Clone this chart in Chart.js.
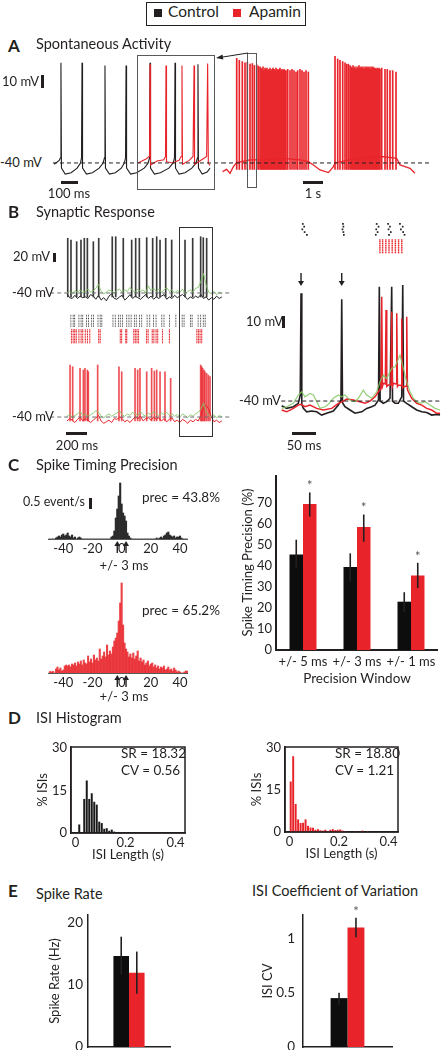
<!DOCTYPE html>
<html>
<head>
<meta charset="utf-8">
<script src="https://cdn.jsdelivr.net/npm/chart.js@4.4.1/dist/chart.umd.min.js"></script>
<style>
body{margin:0;width:441px;height:1050px;position:relative;overflow:hidden;background:#fff;font-family:Lato,"Open Sans",sans-serif;color:#231f20}
.t{position:absolute;white-space:nowrap;line-height:1}
.sb{position:absolute;background:#231f20}
.box{position:absolute;box-sizing:border-box}
canvas{position:absolute}
</style>
</head>
<body>
<script>
const ink='#231f20', red='#e8242a', green='rgba(128,198,98,0.85)', grey='#6d6e70'
const fam='Lato, "Open Sans", sans-serif'
Chart.defaults.font.family=fam
Chart.defaults.font.size=13
Chart.defaults.color=ink
Chart.defaults.animation=false
Chart.defaults.responsive=false
Chart.defaults.devicePixelRatio=1
Chart.defaults.plugins.legend.display=false
Chart.defaults.plugins.tooltip.enabled=false
Chart.defaults.events=[]

// ---------- data ----------
const restLevel=-40

// A: spontaneous activity, control (ms, mV)
const ctrlA_t=[-5,25,32,35,38,60,95,130,150,156,159,162,185,220,260,283,291,294,297,320,355,390,408,415,418,421,445,480,525,548,556,559,562,585,620,670,695,703,706,709,730,765,805,830,838,841,844,866,895,912]
const ctrlA_v=[-41,-38,-36,37,-44,-48.5,-47.5,-44,-40,-36,37,-44,-48.5,-47.5,-44,-40,-36,35,-44,-48.5,-47.5,-44,-40,-36,35,-44,-48.5,-47.5,-44,-40,-36,37,-44,-48.5,-47.5,-44,-40,-36,37,-44,-48.5,-47.5,-44,-40,-36,36,-44,-48.5,-47,-44]
// A: apamin, same window (ms, mV)
const apaA_t=[488,535,553,556,559,562,600,640,650,653,656,690,730,742,747,750,790,812,818,821,870,892,898,902,912]
const apaA_v=[-40,-37,-35,-33,36,-41.5,-38.5,-37.5,-35,35,-39,-40,-38,-35,35,-41,-38,-35,35,-41,-37,-35,36.5,-40,-42]
// A: apamin long recording (s, mV)
const apaLong_t=[0.03,0.23,0.40,0.57,0.73,1.40,2.23,3.07,3.90,4.32,4.57,4.90,5.32,5.57,5.65,6.40,7.23,8.07,8.73,8.90,9.15,9.40,9.65]
const apaLong_v=[-46.7,-44.9,-47.9,-42.8,-39.8,-37.7,-37.5,-36.4,-37.7,-39,-41.5,-45.4,-47.4,-42.8,-40,-37.5,-35.6,-35.1,-36.4,-41.5,-42.8,-44.1,-47.9]
const apaLongSpk=[0.735,0.865,1.015,1.15,1.265,1.40,1.515,1.615,1.735,1.815,1.90,
1.95,2.00,2.05,2.10,2.15,2.20,2.25,2.30,2.35,2.40,2.45,2.50,2.55,2.60,2.65,2.70,2.75,2.80,2.85,2.90,2.95,3.00,3.05,3.10,3.15,
3.20,3.285,3.40,3.50,3.60,3.70,3.785,3.90,4.00,4.10,4.20,4.315,
5.65,5.785,5.90,6.035,6.15,6.235,6.315,6.40,
6.45,6.50,6.55,6.60,6.65,6.70,6.75,6.80,6.85,6.90,6.95,7.00,7.05,7.10,7.15,7.20,7.25,7.30,7.35,7.40,7.45,7.50,7.55,7.60,7.65,7.70,7.75,7.80,7.85,7.90,
7.985,8.15,8.265,8.40,8.535,8.70]
const apaLongPk=[40.5,39,38,37,37.5,36,36.5,35,35.5,34.5,34,
33,32,34,31,33,32,33,31,32,33,31,32,33,32,31,33,32,31,32,33,31,32,31,32,31,
31,32,31,32,31,30,31,32,31,30,31,30,
42,40,39,38,37,36,36,35,
34,33,35,33,34,32,34,33,35,33,34,33,34,32,34,33,34,33,34,32,34,33,34,33,33,32,33,32,33,32,
33,32,32,31,31,30]

// B: synaptic response, 1.5 s (ms, mV)
const tGrid=[0,25,50,75,100,125,150,175,200,225,250,275,300,325,350,375,400,425,450,475,500,525,550,575,600,625,650,675,700,725,750,775,800,825,850,875,900,925,950,975,1000,1025,1050,1075,1100,1125,1150,1175,1200,1225,1250,1275,1300,1325,1350,1375,1400,1425,1450,1475]
const ctrlSub=[-41,-46,-47,-43,-47,-44,-46,-45,-47,-42,-44,-48,-43,-49,-46,-50,-44,-41,-47,-48,-45,-43,-49,-46,-42,-47,-44,-46,-48,-45,-42,-47,-44,-48,-45,-47,-44,-42,-48,-45,-47,-43,-46,-44,-42,-45,-48,-45,-47,-44,-46,-42,-47,-45,-49,-46,-48,-44,-47,-45]
const greenTop=[-40,-38,-41,-37,-39,-36,-40,-38,-35,-39,-37,-34,-29,-38,-41,-39,-36,-38,-40,-37,-35,-39,-36,-38,-33,-37,-39,-35,-38,-36,-40,-31,-37,-34,-38,-35,-39,-36,-33,-38,-36,-40,-37,-39,-35,-41,-38,-36,-39,-34,-33,-25,-15,-30,-39,-41,-38,-42,-39,-41]
const apaSub=[-45,-42,-44,-47,-43,-40,-45,-42,-44,-47,-44,-41,-38,-45,-48,-46,-44,-47,-42,-43,-40,-42,-46,-44,-47,-43,-40,-42,-39,-45,-42,-41,-44,-40,-43,-41,-45,-42,-46,-43,-41,-46,-44,-47,-43,-45,-48,-44,-46,-43,-45,-38,-28,-25,-30,-40,-46,-44,-47,-45]
const greenBot=[-39,-37,-40,-38,-36,-33,-38,-36,-39,-37,-35,-32,-34,-39,-41,-38,-36,-39,-37,-35,-32,-37,-39,-36,-38,-34,-36,-38,-33,-37,-39,-35,-37,-33,-36,-38,-35,-37,-34,-38,-36,-39,-37,-40,-36,-38,-41,-37,-39,-36,-34,-30,-22,-33,-38,-40,-37,-41,-38,-40]
const ctrlSpkB=[7,38,92,133,165,194,251,302,431,464,536,616,654,689,759,816,854,886,940,997,1124,1197,1273,1298,1330]
const ctrlPkB=[29.6,27.4,25.3,27.4,29.6,29.6,25.3,29.6,31.6,31.6,29.6,27.4,29.6,29.6,30.4,29.6,31.6,27.4,29.6,27.4,27.4,29.6,31.6,30.4,29.6]
const apaSpkB=[29,54,124,156,171,194,203,292,495,521,648,673,695,759,806,832,854,886,933,987,1273,1283,1292,1305,1314,1330,1346,1362]
const apaPkB=[26.2,24,22,19.8,22,19.8,17.6,26.2,24,17.6,22,19.8,22,17.6,22,18.5,19.8,17.6,17.6,9.2,26.2,24,22,19.8,17.6,15.5,13.4,11.3]
const ctrlRasterB=[6,29,44,86,108,124,162,181,213,232,276,298,314,425,448,479,498,521,562,584,606,638,657,689,711,765,791,829,854,911,933,987,1051,1114,1133,1197,1213,1273,1298,1324,1343]
const apaRasterB=[12,29,44,60,86,108,124,150,171,194,283,298,498,511,552,562,632,648,664,679,759,775,816,832,854,870,918,987,1260,1276,1292,1308]
const ctrlTrials=[1,2,3,4,5,6,7,8]
const apaTrials=[10,11,12,13,14,15,16,17,18]

// B inset, 330 ms (ms, mV)
const ctrlIn_t=[-0.7,9.7,23.6,34,38,39.6,41.2,44.4,51.4,61.8,72.2,82.6,93,106.9,117.4,122.8,124.4,126,131.2,141.7,152,166,176.4,186.8,193.8,201,202.7,204.4,211,218,225,228.5,230.2,235.4,242.3,249.4,251.5,253.2,259.8,270.2,280.6,291,301.5,311.9,322.3,329.2]
const ctrlIn_v=[-42.9,-44.5,-43.5,-41.4,-36.3,26.1,-42,-44.5,-46.6,-46.1,-46.6,-48.6,-47.5,-46.1,-42.5,-39.4,22.4,-41,-43.5,-45.5,-47.5,-46.6,-44.5,-43.5,-42.5,-39.4,30.1,-40,-41.4,-40.4,-38.3,30.1,-40,-41.4,-41.4,-37.4,31.2,-40,-41.4,-43.5,-45.5,-46.6,-47,-48.6,-48.2,-48.6]
const apaIn_t=[-0.7,9.7,23.6,34,39.6,47.9,58.3,72.2,86.1,103.5,117.4,127.8,134.7,148.6,162.5,172.9,183.3,193.8,200.7,206.2,207.7,209.2,211.1,215.2,216.7,218.2,221.5,227,228.5,230,232,237.5,239,240.5,242.4,247.9,249.4,250.9,252.8,258.3,259.8,261.3,263.2,270.2,280.6,291,301.5,311.9,322.3,329.2]
const apaIn_v=[-45.5,-46.6,-44.5,-42.5,-42,-43.5,-42.5,-44.5,-45.5,-44.5,-41.4,-40,-38.8,-39.4,-40.4,-41.4,-40,-37.4,-34.3,-32.2,24,-31,-29.1,-29.5,15.8,-31,-30.2,-30,14.8,-31,-29.1,-29.5,13.8,-31,-30.2,-30.5,10.7,-32,-31.2,-31,11.7,-33,-34.3,-38.3,-41.4,-42.5,-44.5,-45.5,-47.5,-47.5]
const greenIn_t=[-0.7,9.7,23.6,34,41,47.9,58.3,65.3,79.2,89.6,96.5,106.9,117.4,124.3,131.2,141.7,152.1,159,169.4,176.4,186.8,197.2,204.2,211.1,218,228.5,235.4,245.8,252.8,259.7,266.7,273.6,280.6,287.5,297.9,308.3,318.8,329.2]
const greenIn_v=[-44.5,-43.5,-41.4,-36.3,-34.3,-37.4,-35.3,-36.3,-44.5,-43.5,-42,-38.3,-36.3,-37.4,-36.3,-39.4,-40.4,-38.3,-33.3,-36.3,-38.3,-34.3,-28.2,-24,-26.1,-19.9,-19,-11.8,-19.9,-28.2,-34.3,-38.3,-40.4,-41.4,-40.4,-42.5,-44.5,-45.5]
const stimTimes=[39.6,124.4]
const ctrlRasterIn_t=[37,40,36,41,46,125,126,124,126,127,199,203,198,201,197,224,228,225,230,226,250,256,252,257,260]
const ctrlRasterIn_tr=[1,2,3,4,5,1,2,3,4,5,1,2,3,4,5,1,2,3,4,5,1,2,3,4,5]
const apaRasterIn_cols=[206,212,219,226,233,240,247,254]
const apaRasterIn_rows=[1,2,3,4,5,6,7,8]

// C: spike timing histograms (event/s per 1 ms bin)
const lagMs=[-50,-49,-48,-47,-46,-45,-44,-43,-42,-41,-40,-39,-38,-37,-36,-35,-34,-33,-32,-31,-30,-29,-28,-27,-26,-25,-24,-23,-22,-21,-20,-19,-18,-17,-16,-15,-14,-13,-12,-11,-10,-9,-8,-7,-6,-5,-4,-3,-2,-1,0,1,2,3,4,5,6,7,8,9,10,11,12,13,14,15,16,17,18,19,20,21,22,23,24,25,26,27,28,29,30,31,32,33,34,35,36,37,38,39,40,41,42,43,44,45]
const ctrlLag=[0,0,0,0,0,0.05,0.1,0.15,0.1,0.2,0.25,0.15,0.2,0.3,0.15,0.1,0.2,0.05,0.1,0,0.05,0.1,0.05,0,0,0,0,0,0,0,0,0,0,0,0,0,0,0,0,0,0,0,0,0.1,0.15,0.4,1.05,1.5,2.15,2.8,1.75,1.3,1.15,0.9,0.3,0.15,0.05,0,0,0,0,0,0,0,0,0,0,0,0,0,0,0,0,0,0.05,0,0.05,0.1,0.05,0.15,0.2,0.3,0.35,0.2,0.15,0.1,0.15,0.05,0.1,0.1,0.15,0.05,0,0,0,0]
const apaLag=[0,0.08,0.05,0.08,0,0.2,0.3,0.15,0.25,0.1,0.15,0.35,0.4,0.35,0.4,0.3,0.45,0.4,0.5,0.35,0.55,0.45,0.6,0.4,0.65,0.5,0.45,0.85,0.55,0.7,0.5,0.9,0.65,0.75,0.6,1.2,0.7,0.85,1.05,0.8,1.4,0.9,1.1,0.95,1.3,1.6,1.75,2.0,2.6,3.5,4.5,2.4,1.5,1.2,1.05,0.8,0.95,0.75,1.0,0.7,0.85,1.1,0.6,0.75,0.55,0.65,0.4,0.5,0.6,0.35,0.45,0.5,0.3,0.4,0.25,0.35,0.2,0.3,0.25,0.35,0.15,0.2,0.3,0.15,0.2,0.1,0.25,0.15,0.05,0.1,0.05,0,0,0.05,0.1,0.1]
const lagTicks=[-40,-20,0,20,40]
const precWin=[-3,3]

// C: precision summary (%)
const precLabels=['+/- 5 ms','+/- 3 ms','+/- 1 ms']
const precCtrl=[45.5,39.5,23]
const precCtrlLo=[39,32.5,18], precCtrlHi=[52.5,46,27.5]
const precApa=[69.5,58.5,35.5]
const precApaLo=[63.5,51.5,29.5], precApaHi=[75,64.5,41.5]
const precTicks=[0,10,20,30,40,50,60,70]

// D: ISI histograms (% of ISIs per 10 ms bin)
const isiCtrlBins=[0.005,0.015,0.025,0.035,0.045,0.055,0.065,0.075,0.085,0.095,0.105,0.115,0.125,0.135,0.145,0.155]
const isiCtrl=[0,3,0,12,18.5,12,14,11,10,4,3.5,1.5,1.7,0.8,1.2,0.5]
const isiApaBins=[0.005,0.015,0.025,0.035,0.045,0.055,0.065,0.075,0.085,0.095,0.105,0.115,0.125,0.135,0.145,0.155,0.165,0.175,0.185,0.195,0.205,0.215,0.225,0.235,0.245,0.255,0.265,0.275,0.285,0.295,0.305,0.315,0.325]
const isiApa=[18,27,10,4.5,3.2,3.3,4.5,2.2,1.6,1.5,0.8,1.0,0.6,0.5,0.8,0.3,0.8,1.0,0.7,0.8,0.9,0.5,0.3,0,0,0,0.3,0,0,0.5,0,0.3,0]
const isiTicks=[0,0.2,0.4]
const pctTicks=[0,15,30]

// E: summary
const rateCtrl=[14.7], rateCtrlLo=[11.7], rateCtrlHi=[17.8]
const rateApa=[12], rateApaLo=[8.6], rateApaHi=[15.4]
const rateTicks=[0,10,20]
const cvCtrl=[0.45], cvCtrlLo=[0.39], cvCtrlHi=[0.50]
const cvApa=[1.10], cvApaLo=[1.01], cvApaHi=[1.19]
const cvTicks=[0,0.5,1]

// ---------- helpers ----------
function mk(left,top,w,h){
let c=document.createElement('canvas')
c.width=w; c.height=h
c.style.left=left+'px'; c.style.top=top+'px'; c.style.width=w+'px'; c.style.height=h+'px'
document.body.appendChild(c)
return c
}
function xy(ts,vs){ return ts.map((t,i)=>({x:t,y:vs[i]})) }
function spikes(ts,pk,floor){ return ts.map((t,i)=>({x:t,y:[floor,pk[i]]})) }
function line(data,color,w){ return {type:'line',data,borderColor:color,borderWidth:w||1,pointRadius:0,tension:0} }
function dash(a,b,color){ return {type:'line',data:[{x:a,y:restLevel},{x:b,y:restLevel}],borderColor:color,borderWidth:1,borderDash:[4,3],pointRadius:0} }
function bars(data,color){ return {type:'bar',data,backgroundColor:color,barThickness:1,grouped:false,borderWidth:0} }
function traceOpts(xr,yr,rev){
return {layout:{padding:0},scales:{
x:{type:'linear',display:false,min:xr[0],max:xr[1],offset:false},
y:{type:'linear',display:false,min:yr[0],max:yr[1],reverse:!!rev}}}
}
function fixTicks(list){ return s=>{ s.ticks=list.map(v=>({value:v})) } }
// fixed axis sizes so that the plot area lands where the figure has it
function fitH(h){ return s=>{ s.height=h; s.paddingLeft=0; s.paddingRight=0 } }
function fitW(w){ return s=>{ s.width=w; s.paddingTop=0; s.paddingBottom=0 } }
function visAxis(extra){
return Object.assign({type:'linear',offset:false,grid:{display:false,drawTicks:false},border:{display:true,color:ink,width:1.5}},extra)
}

const errPlugin={id:'err',afterDatasetsDraw(ch){
let ctx=ch.ctx, y=ch.scales.y
ch.data.datasets.forEach((ds,di)=>{
if(!ds.errLo) return
ch.getDatasetMeta(di).data.forEach((b,i)=>{
let lo=y.getPixelForValue(ds.errLo[i]), hi=y.getPixelForValue(ds.errHi[i])
ctx.save()
ctx.strokeStyle=ink; ctx.lineWidth=1.6
ctx.beginPath(); ctx.moveTo(b.x,lo); ctx.lineTo(b.x,hi); ctx.stroke()
if(ds.star){ ctx.fillStyle='#58595b'; ctx.font='13px '+fam; ctx.textAlign='center'; ctx.fillText('*',b.x,hi-2) }
ctx.restore()
})
})
}}
const framePlugin={id:'frame',afterDraw(ch){
let a=ch.chartArea, ctx=ch.ctx
ctx.save(); ctx.strokeStyle=ink; ctx.lineWidth=1.5
ctx.strokeRect(a.left,a.top,a.right-a.left,a.bottom-a.top)
ctx.restore()
}}
function arrows(at,from,to,up){
return {id:'arrows',afterDraw(ch){
let ctx=ch.ctx, x=ch.scales.x, base=up?ch.chartArea.bottom:ch.chartArea.top
ctx.save(); ctx.strokeStyle=ink; ctx.fillStyle=ink; ctx.lineWidth=1.4
at.forEach(v=>{
let px=x.getPixelForValue(v), y0=base+from, y1=base+to, d=up?-1:1
ctx.beginPath(); ctx.moveTo(px,y0); ctx.lineTo(px,y1-d*4); ctx.stroke()
ctx.beginPath(); ctx.moveTo(px-3,y1-d*5); ctx.lineTo(px+3,y1-d*5); ctx.lineTo(px,y1); ctx.closePath(); ctx.fill()
})
ctx.restore()
}}
}

// ---------- A ----------
new Chart(mk(50,50,172,140),{type:'line',data:{datasets:[
dash(-12,982,ink),
line(xy(apaA_t,apaA_v),red,1.1),
line(xy(ctrlA_t,ctrlA_v),ink,1.1)
]},options:traceOpts([-29.4,982.4],[-60.8,46.9])})

new Chart(mk(222,50,213,140),{type:'line',data:{datasets:[
dash(0,10.4,ink),
bars(spikes(apaLongSpk,apaLongPk,-45),red),
line(xy(apaLong_t,apaLong_v),red,1.3)
]},options:traceOpts([0,10.65],[-60.8,46.9])})

// ---------- B left ----------
new Chart(mk(50,225,185,80),{type:'line',data:{datasets:[
dash(-160,1571,grey),
line(xy(tGrid,greenTop),green,1),
bars(spikes(ctrlSpkB,ctrlPkB,-45),'#3a3a3a'),
line(xy(tGrid,ctrlSub),ink,1)
]},options:traceOpts([-161.9,1600],[-55.3,46.5])})

let rasterCtrl=[], rasterApa=[]
ctrlRasterB.forEach(t=>ctrlTrials.forEach(r=>rasterCtrl.push({x:t,y:r})))
apaRasterB.forEach(t=>apaTrials.forEach(r=>rasterApa.push({x:t,y:r})))
new Chart(mk(50,308,185,42),{type:'scatter',data:{datasets:[
{data:rasterCtrl,pointStyle:'rect',pointRadius:0.6,backgroundColor:ink,borderWidth:0},
{data:rasterApa,pointStyle:'rect',pointRadius:0.8,backgroundColor:red,borderWidth:0}
]},options:traceOpts([-161.9,1600],[-1,20],true)})

new Chart(mk(50,355,185,75),{type:'line',data:{datasets:[
dash(-160,1571,grey),
line(xy(tGrid,greenBot),green,1),
bars(spikes(apaSpkB,apaPkB,-45),'rgba(232,36,42,0.8)'),
line(xy(tGrid,apaSub),red,1)
]},options:traceOpts([-161.9,1600],[-56.5,38.9])})

// ---------- B inset ----------
let rasterInApa=[]
apaRasterIn_cols.forEach(t=>apaRasterIn_rows.forEach(r=>rasterInApa.push({x:t,y:r})))
new Chart(mk(280,215,161,45),{type:'scatter',data:{datasets:[
{data:xy(ctrlRasterIn_t,ctrlRasterIn_tr),yAxisID:'y',pointStyle:'rect',pointRadius:1.2,backgroundColor:ink,borderWidth:0},
{data:rasterInApa,yAxisID:'y2',pointStyle:'rect',pointRadius:1,backgroundColor:red,borderWidth:0}
]},options:{layout:{padding:0},scales:{
x:{type:'linear',display:false,min:-4.2,max:331.2},
y:{type:'linear',display:false,min:-0.82,max:12.82,reverse:true},
y2:{type:'linear',display:false,min:-10.6,max:9.85,reverse:true}}}})

new Chart(mk(280,262,161,163),{type:'line',data:{datasets:[
dash(-1.5,331,ink),
line(xy(greenIn_t,greenIn_v),green,1.2),
line(xy(apaIn_t,apaIn_v),red,1.5),
line(xy(ctrlIn_t,ctrlIn_v),ink,1.6)
]},options:traceOpts([-4.2,331.2],[-54.7,45.3]),plugins:[arrows(stimTimes,11,24,false)]})

// ---------- C histograms ----------
function lagChart(top,h,ymax,vals,color){
return new Chart(mk(48,top,140,h),{type:'bar',data:{datasets:[
{data:xy(lagMs,vals),backgroundColor:color,barPercentage:1,categoryPercentage:1,borderWidth:0}
]},options:{layout:{padding:0},scales:{
x:visAxis({min:-50.5,max:45.5,afterBuildTicks:fixTicks(lagTicks),afterFit:fitH(20),border:{display:true,color:'#58595b',width:1},ticks:{padding:2,font:{size:13},callback:v=>String(v)}}),
y:{type:'linear',display:false,min:0,max:ymax}}},
plugins:[arrows(precWin,14,2,true)]})
}
lagChart(478,81,3.05,ctrlLag,'#2b2b2b')
lagChart(578,115,4.75,apaLag,'rgba(232,36,42,0.85)')

// ---------- C summary ----------
new Chart(mk(240,475,198,212),{type:'bar',data:{labels:precLabels,datasets:[
{data:precCtrl,errLo:precCtrlLo,errHi:precCtrlHi,backgroundColor:'#0d0d0d',barPercentage:1,categoryPercentage:0.5},
{data:precApa,errLo:precApaLo,errHi:precApaHi,star:true,backgroundColor:red,barPercentage:1,categoryPercentage:0.5}
]},options:{layout:{padding:0},scales:{
x:{type:'category',offset:true,grid:{display:false,drawTicks:false},border:{display:true,color:ink,width:2},
ticks:{padding:4,autoSkip:false,maxRotation:0,font:{size:13}},
title:{display:true,text:'Precision Window',font:{size:13.5},padding:0},afterFit:fitH(37)},
y:visAxis({min:0,max:83.3,afterBuildTicks:fixTicks(precTicks),afterFit:fitW(36),border:{display:true,color:ink,width:2},
ticks:{padding:4,font:{size:13},callback:v=>String(v)},
title:{display:true,text:'Spike Timing Precision (%)',font:{size:13},padding:0}})}},
plugins:[errPlugin]})

// ---------- D ----------
function isiChart(left,w,h,bins,vals,color){
return new Chart(mk(left,736,w,h),{type:'bar',data:{datasets:[
{data:xy(bins,vals),backgroundColor:color,barPercentage:0.8,categoryPercentage:1,borderWidth:0}
]},options:{layout:{padding:{top:11,right:2}},scales:{
x:visAxis({min:-0.018,max:0.438,afterBuildTicks:fixTicks(isiTicks),afterFit:fitH(30),ticks:{padding:2,font:{size:13},callback:v=>String(v)},
title:{display:true,text:'ISI Length (s)',font:{size:13},padding:0}}),
y:visAxis({min:0,max:30.3,afterBuildTicks:fixTicks(pctTicks),afterFit:fitW(36),ticks:{padding:4,font:{size:13},callback:v=>String(v)},
title:{display:true,text:'% ISIs',font:{size:13},padding:0}})}},
plugins:[framePlugin]})
}
isiChart(35,152,127,isiCtrlBins,isiCtrl,'#1a1a1a')
isiChart(249,151,126,isiApaBins,isiApa,red)

// ---------- E ----------
function summChart(left,top,w,h,padTop,ax,ymax,ticks,pad,title,c,cLo,cHi,a,aLo,aHi,star){
return new Chart(mk(left,top,w,h),{type:'bar',data:{labels:[''],datasets:[
{data:c,errLo:cLo,errHi:cHi,backgroundColor:'#0d0d0d',barPercentage:1,categoryPercentage:0.38},
{data:a,errLo:aLo,errHi:aHi,star,backgroundColor:red,barPercentage:1,categoryPercentage:0.38}
]},options:{layout:{padding:{top:padTop,right:2,bottom:2}},scales:{
x:{type:'category',offset:true,grid:{display:false,drawTicks:false},border:{display:true,color:ink,width:1.5},ticks:{display:false},afterFit:fitH(1)},
y:visAxis({min:0,max:ymax,afterBuildTicks:fixTicks(ticks),afterFit:fitW(ax),ticks:{padding:pad,font:{size:13.5},callback:v=>String(v)},
title:{display:true,text:title,font:{size:13},padding:0}})}},
plugins:[errPlugin]})
}
summChart(47,910,125,140,5,41,21.3,rateTicks,5,'Spike Rate (Hz)',rateCtrl,rateCtrlLo,rateCtrlHi,rateApa,rateApaLo,rateApaHi,false)
summChart(260,900,134,150,15,43,1.215,cvTicks,8,'ISI CV',cvCtrl,cvCtrlLo,cvCtrlHi,cvApa,cvApaLo,cvApaHi,true)

// ---------- text, scale bars, boxes ----------
function label(s,x,y,size,align,bold){
let d=document.createElement('div')
d.className='t'; d.textContent=s
d.style.fontSize=size+'px'; d.style.left=x+'px'; d.style.top=(y-size*0.56)+'px'
if(align==='c') d.style.transform='translateX(-50%)'
if(bold) d.style.fontWeight='bold'
document.body.appendChild(d)
}
function rect(x,y,w,h,css){
let d=document.createElement('div')
d.className=css?'box':'sb'
d.style.left=x+'px'; d.style.top=y+'px'; d.style.width=w+'px'; d.style.height=h+'px'
if(css) d.style.cssText+=css
document.body.appendChild(d)
}
const labels=[
['Control',168,13,15.5],['Apamin',249,13,15.5],
['A',8,47,17,'l',1],['Spontaneous Activity',36,45,14.5],
['10 mV',2,82,13],['-40 mV',0,163,13],['100 ms',69,194,13,'c'],['1 s',313,194,13,'c'],
['B',8,213,17,'l',1],['Synaptic Response',36,213,14.5],
['20 mV',13,257,13],['-40 mV',12,293,13],['-40 mV',12,417,13],
['10 mV',246,322,13],['-40 mV',239,401,13],
['200 ms',77,446,13,'c'],['50 ms',304,446,13,'c'],
['C',8,466,17,'l',1],['Spike Timing Precision',36,466,14.5],
['0.5 event/s',23,503,12.5],['prec = 43.8%',142,499,13.5],['+/- 3 ms',124,566,13,'c'],
['prec = 65.2%',142,612,13.5],['+/- 3 ms',124,697,13,'c'],
['D',8,719,17,'l',1],['ISI Histogram',36,719,14.5],
['SR = 18.32',121,755,13.5],['CV = 0.56',121,772,13.5],
['SR = 18.80',335,755,13.5],['CV = 1.21',335,772,13.5],
['E',8,892,17,'l',1],['Spike Rate',36,895,14.5],['ISI Coefficient of Variation',335,892,14.5,'c']
]
labels.forEach(l=>label(l[0],l[1],l[2],l[3],l[4],l[5]))

rect(146,2,160,24,'border:1.5px solid #231f20')
rect(154,9,8,8)
rect(233,9,8,8,'background:'+red)
rect(41,75,3,13); rect(61,181,17,3); rect(303,181,20,3)
rect(53,253,3,9); rect(282,316,3,12); rect(66,432,21,3); rect(292,432,24,3)
rect(89,498,3,11)
rect(137,55,78,135,'border:1px solid #58595b')
rect(247,53,10,135,'border:1px solid #58595b')
rect(179,227,34,210,'border:1.5px solid #333')

let svg=document.createElementNS('http://www.w3.org/2000/svg','svg')
svg.setAttribute('width','441'); svg.setAttribute('height','100')
svg.style.cssText='position:absolute;left:0;top:0'
svg.innerHTML='<line x1="248" y1="53" x2="221" y2="57.3" stroke="#231f20" stroke-width="1"/><polygon points="216,58 222.5,54.6 223.3,59.6" fill="#231f20"/>'
document.body.appendChild(svg)
</script>
</body>
</html>
